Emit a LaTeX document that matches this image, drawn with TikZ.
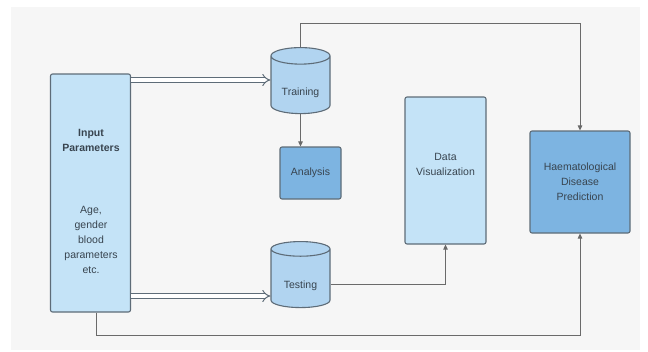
\documentclass[tikz,border=0pt]{standalone}
\usepackage{fontspec}
\setmainfont{Liberation Sans}
\usetikzlibrary{shapes.geometric,arrows.meta}
\definecolor{bgcol}{HTML}{F6F6F6}
\definecolor{lightcol}{HTML}{C4E3F7}
\definecolor{cylcol}{HTML}{B1D4F0}
\definecolor{darkcol}{HTML}{7DB4E1}
\definecolor{edgecol}{HTML}{5E6C78}
\definecolor{linecol}{HTML}{6A6A6A}
\definecolor{textcol}{HTML}{38444F}
\begin{document}
\begin{tikzpicture}[x=1pt,y=-1pt,
  font=\fontsize{10.5}{15}\selectfont, text=textcol,
  box/.style={draw=edgecol, line width=1.1pt, rounded corners=2pt, fill=lightcol},
  db/.style={cylinder, shape border rotate=90, aspect=0.44, draw=edgecol, line width=1.1pt,
    fill=cylcol, minimum width=59pt, minimum height=66pt, inner sep=0pt,
    text height=20pt, text depth=0pt},
  flow/.style={draw=linecol, line width=0.9pt, -{Triangle[length=5pt,width=4.5pt]}},
  feed/.style={draw=edgecol, double=white, double distance=3.2pt, line width=1pt, -{Implies}}]
\fill[white] (0,0) rectangle (648,351);
\fill[bgcol] (11,7) rectangle (640,350);
\useasboundingbox (0,0) rectangle (648,351);

% boxes
\node[box, minimum width=80pt, minimum height=238pt] (input) at (90.5,193) {};
\node[font=\fontsize{10.5}{15}\selectfont\bfseries, align=center] (inputhead) at (91,140) {Input\\Parameters};
\node[align=center] (inputbody) at (91,239.5) {Age,\\gender\\blood\\parameters\\etc.};
\node[db] (train) at (300.5,85) {Training};
\node[box, fill=darkcol, minimum width=61pt, minimum height=52pt] (analysis) at (310.5,173) {Analysis};
\node[db] (test) at (300.5,278.5) {Testing};
\node[box, minimum width=81pt, minimum height=147pt] (datavis) at (445.5,170.5) {};
\node[align=center] (datavistext) at (445.5,164) {Data\\Visualization};
\node[box, fill=darkcol, minimum width=100pt, minimum height=102pt, align=center] (predict) at (580,182) {Haematological\\Disease\\Prediction};

% connectors
\coordinate (trainin) at ([yshift=5pt]train.west);
\coordinate (testin) at ([yshift=-17.5pt]test.west);
\coordinate (testout) at ([yshift=-5.5pt]test.east);
\path[feed] (input.east |- trainin) -- (trainin);
\path[feed] (input.east |- testin) -- (testin);
\path[flow] (train.south) -- (train.south |- analysis.north);
\path[flow] (train.north) -- ++(0,-24) -| (predict.north);
\path[flow] (testout) -| (datavis.south);
\path[flow] ([xshift=5.5pt]input.south) -- ++(0,23) -| (predict.south);
\end{tikzpicture}
\end{document}
